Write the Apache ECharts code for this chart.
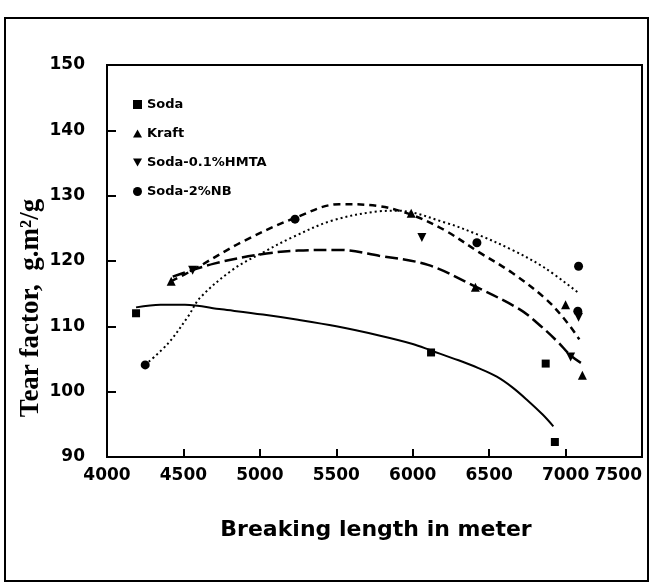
<!DOCTYPE html>
<html lang="en">
<head>
    <meta charset="UTF-8"/>
    <title>Tear factor vs breaking length</title>
    <script src="https://cdn.jsdelivr.net/npm/echarts@6/dist/echarts.min.js"></script>
    <style>
        body{margin:0;background:#fff;}
    </style>
</head>
<body>
<div id="main" style="width: 653px;height: 587px;"></div>
<script type="text/javascript">
    // measured points (breaking length m, tear factor)
    var sodaPts=[[4190,112],[6120,106],[6870,104.3],[6930,92.3]];
    var kraftPts=[[4420,116.9],[5990,127.3],[6410,116],[7000,113.3],[7110,102.5]];
    var hmtaPts=[[4560,118.6],[6060,123.6],[7033,105.3],[7085,111.4]];
    var nbPts=[[4250,104.1],[5230,126.4],[6420,122.8],[7085,119.2],[7080,112.3]];

    // fitted curves
    var sodaFit=[[4190,112.9],[4350,113.3],[4510,113.3],[4750,112.6],[5020,111.8],[5250,111],[5500,110],
        [5780,108.6],[6000,107.3],[6120,106.3],[6300,104.8],[6430,103.6],[6550,102.3],[6650,100.7],
        [6750,98.7],[6850,96.5],[6920,94.7]];
    var kraftFit=[[4430,117.6],[4700,119.6],[5000,121],[5250,121.6],[5520,121.7],[5780,120.8],[6100,119.4],
        [6400,116.2],[6700,112.6],[6820,110.4],[6950,107.6],[7030,105.6],[7100,104.4]];
    var hmtaFit=[[4420,116.9],[4560,118.6],[4890,123],[5230,126.6],[5520,128.7],[5780,128.4],[6000,127],
        [6210,124.7],[6430,121.4],[6650,118.2],[6870,114.2],[7000,110.9],[7090,108]];
    var nbFit=[[4250,104.1],[4400,107.4],[4530,111.5],[4610,114.4],[4830,118.8],[5020,121.3],[5210,123.6],
        [5475,126.2],[5780,127.6],[5900,127.7],[6210,125.9],[6430,124],[6650,121.7],[6860,119],[7080,115.2]];

    var names=['Soda','Kraft','Soda-0.1%HMTA','Soda-2%NB'];
    var xTicks=[4000,7500,500];
    var yTicks=[90,150,10];

    var downTri='path://M0,0 L10,0 L5,9 Z';
    var upTri='path://M5,0 L10,9 L0,9 Z';
    var lblFont='"DejaVu Sans"';

    var myChart=echarts.init(document.getElementById('main'));

    function fitLine(name,data,dash,width){
        return {
            name:name+' fit',
            type:'line',
            data:data,
            smooth:0.35,
            showSymbol:false,
            silent:true,
            z:2,
            lineStyle:{color:'#000',width:width,type:dash}
        };
    }
    function pts(name,data,symbol,size){
        return {
            name:name,
            type:'scatter',
            data:data,
            symbol:symbol,
            symbolSize:size,
            z:3,
            itemStyle:{color:'#000',opacity:1}
        };
    }

    myChart.setOption({
        animation:false,
        backgroundColor:'#fff',
        grid:{
            left:107,top:65,right:11,bottom:130,
            outerBoundsMode:'none',
            containLabel:false,
            show:true,borderColor:'#000',borderWidth:2
        },
        legend:{
            orient:'vertical',
            left:128,top:93,
            itemWidth:9,itemHeight:9,itemGap:16,
            itemStyle:{opacity:1},
            textStyle:{fontFamily:lblFont,fontWeight:'bold',fontSize:13,color:'#000'},
            data:[
                {name:names[0],icon:'rect'},
                {name:names[1],icon:upTri},
                {name:names[2],icon:downTri},
                {name:names[3],icon:'circle'}
            ]
        },
        xAxis:{
            type:'value',
            min:xTicks[0],max:xTicks[1],interval:xTicks[2],
            splitLine:{show:false},
            axisLine:{lineStyle:{color:'#000',width:2}},
            axisTick:{inside:true,length:8,lineStyle:{color:'#000',width:2}},
            axisLabel:{color:'#000',fontFamily:lblFont,fontWeight:'bold',fontSize:17,margin:10,
                hideOverlap:false,alignMaxLabel:'right',
                formatter:function(v){return String(v);}}
        },
        yAxis:{
            type:'value',
            min:yTicks[0],max:yTicks[1],interval:yTicks[2],
            splitLine:{show:false},
            axisLine:{lineStyle:{color:'#000',width:2}},
            axisTick:{inside:true,length:9,lineStyle:{color:'#000',width:2}},
            axisLabel:{color:'#000',fontFamily:lblFont,fontWeight:'bold',fontSize:17,margin:22}
        },
        graphic:[
            {type:'rect',shape:{x:5,y:18,width:643,height:563},
                style:{fill:null,stroke:'#000',lineWidth:2},silent:true},
            {type:'text',x:31,y:308,rotation:Math.PI/2,
                style:{text:'Tear factor,  g.m²/g',font:'bold 27px "Liberation Serif"',fill:'#000',
                    textAlign:'center',textVerticalAlign:'middle'}},
            {type:'text',x:376,y:530,
                style:{text:'Breaking length in meter',font:'bold 22px "DejaVu Sans"',fill:'#000',
                    textAlign:'center',textVerticalAlign:'middle'}}
        ],
        series:[
            fitLine(names[0],sodaFit,'solid',2),
            fitLine(names[1],kraftFit,[13,5],2.5),
            fitLine(names[2],hmtaFit,[7,5],2.5),
            fitLine(names[3],nbFit,[2,3],2),
            pts(names[0],sodaPts,'rect',8),
            pts(names[1],kraftPts,upTri,9),
            pts(names[2],hmtaPts,downTri,9),
            pts(names[3],nbPts,'circle',9)
        ]
    });
</script>

</body>
</html>
